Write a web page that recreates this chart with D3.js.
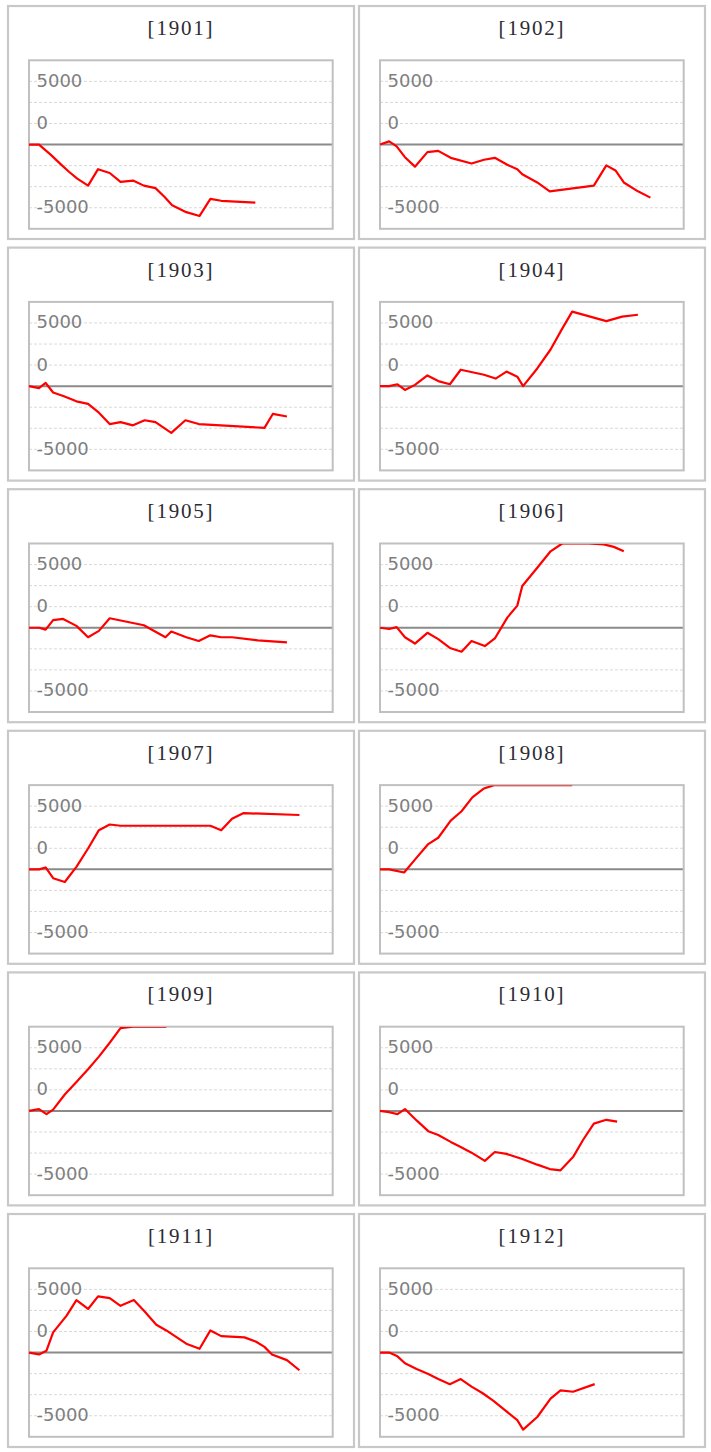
<!DOCTYPE html>
<html><head><meta charset="utf-8">
<script src="https://cdn.jsdelivr.net/npm/d3@7"></script>
<style>body{margin:0;background:#fff;} svg{display:block}</style>
</head><body><svg id="c" width="711" height="1452"></svg>
<script>
// ---- data: [day, value] ----
const years = ["1901","1902","1903","1904","1905","1906","1907","1908","1909","1910","1911","1912"];
const s1901 = [[0,0],[12,0],[26,-800],[38,-1550],[48,-2150],[58,-2700],[71,-3250],[83,-1950],[97,-2250],[110,-2950],[125,-2850],[138,-3250],[152,-3450],[163,-4150],[172,-4800],[189,-5350],[205,-5650],[218,-4300],[231,-4450],[272,-4600]];
const s1902 = [[0,0],[11,250],[20,-150],[30,-1000],[42,-1750],[57,-600],[70,-500],[85,-1050],[110,-1500],[125,-1200],[138,-1050],[153,-1600],[165,-1950],[171,-2350],[189,-3000],[204,-3700],[257,-3250],[272,-1650],[283,-2050],[293,-3000],[310,-3700],[325,-4200]];
const s1903 = [[0,0],[12,-150],[20,250],[29,-500],[42,-800],[57,-1200],[71,-1400],[84,-2100],[97,-3000],[110,-2850],[125,-3100],[139,-2700],[152,-2850],[171,-3700],[188,-2700],[204,-3000],[283,-3300],[293,-2200],[310,-2400]];
const s1904 = [[0,0],[11,0],[21,150],[30,-300],[42,100],[57,850],[70,400],[84,150],[97,1300],[125,900],[139,600],[152,1150],[165,750],[172,0],[189,1400],[205,2900],[219,4550],[231,5900],[272,5150],[291,5500],[310,5650]];
const s1905 = [[0,0],[12,0],[20,-150],[29,600],[41,700],[57,150],[71,-750],[84,-250],[97,750],[138,200],[164,-750],[171,-300],[189,-750],[204,-1050],[218,-600],[231,-750],[244,-750],[275,-1000],[310,-1150]];
const s1906 = [[0,0],[11,-100],[20,50],[30,-750],[42,-1250],[57,-400],[70,-900],[84,-1600],[98,-1900],[110,-1050],[126,-1450],[138,-850],[153,800],[165,1750],[171,3300],[189,4750],[205,6050],[219,6750],[235,7100],[251,6800],[269,6600],[281,6400],[293,6050]];
const s1907 = [[0,0],[12,0],[20,150],[29,-700],[43,-1000],[57,200],[71,1650],[84,3100],[97,3550],[110,3450],[218,3450],[231,3100],[244,4000],[258,4450],[325,4300]];
const s1908 = [[0,0],[11,0],[29,-250],[43,850],[58,2000],[70,2500],[85,3850],[98,4600],[111,5700],[125,6400],[137,6800],[152,7100],[165,7300],[178,7500],[191,7600],[205,7800],[218,7900],[231,8000]];
const s1909 = [[0,0],[12,150],[21,-250],[29,100],[43,1300],[57,2300],[71,3300],[84,4300],[97,5400],[110,6550],[125,6900],[138,7200],[152,7400],[165,7600]];
const s1910 = [[0,0],[11,-100],[21,-250],[30,150],[44,-750],[58,-1600],[70,-1900],[85,-2450],[97,-2850],[110,-3300],[126,-3950],[138,-3250],[152,-3400],[171,-3800],[189,-4250],[204,-4600],[217,-4700],[232,-3650],[244,-2300],[257,-1000],[272,-700],[285,-850]];
const s1911 = [[0,0],[12,-150],[21,150],[29,1600],[45,2900],[57,4150],[71,3450],[83,4450],[97,4300],[110,3700],[126,4150],[139,3250],[153,2200],[165,1750],[189,700],[205,300],[218,1750],[231,1300],[259,1200],[273,850],[283,450],[292,-150],[310,-600],[325,-1400]];
const s1912 = [[0,0],[11,0],[21,-300],[30,-850],[44,-1300],[58,-1700],[70,-2100],[84,-2500],[97,-2100],[110,-2700],[123,-3200],[136,-3800],[149,-4500],[165,-5350],[172,-6100],[189,-5100],[205,-3650],[217,-3000],[232,-3100],[258,-2500]];
const seriesList = [s1901,s1902,s1903,s1904,s1905,s1906,s1907,s1908,s1909,s1910,s1911,s1912];

const xDomain = [0, 365];
const yDomain = [-6666.67, 6666.67];
const gridValues = [-5000, -3333.33, -1666.67, 1666.67, 3333.33, 5000];
const tickValues = [5000, 1666.67, -5000];
const tickLabels = ["5000", "0", "-5000"];

// ---- layout ----
const colLefts = [8, 359];
const panelW = 346, panelH = 233, rowTop0 = 6, rowPitch = 241.6;
const plotDX = 21, plotDY = 54.3, plotW = 303.7, plotH = 168.5;

const svg = d3.select("#c");
const defs = svg.append("defs");

years.forEach((yr, i) => {
  const col = i % 2, row = Math.floor(i / 2);
  const px = colLefts[col], py = rowTop0 + row * rowPitch;
  const g = svg.append("g");
  g.append("rect").attr("x", px).attr("y", py).attr("width", panelW).attr("height", panelH)
    .attr("fill", "#fff").attr("stroke", "#c8c8c8").attr("stroke-width", 2.2);
  g.append("text").attr("x", px + panelW / 2).attr("y", py + 29)
    .attr("text-anchor", "middle")
    .attr("font-family", "'Liberation Serif', serif").attr("font-size", 21)
    .attr("letter-spacing", "1.8px")
    .attr("fill", "#2b2b33").text("[" + yr + "]");

  const L = px + plotDX, T = py + plotDY;
  const x = d3.scaleLinear().domain(xDomain).range([L, L + plotW]);
  const y = d3.scaleLinear().domain(yDomain).range([T + plotH, T]).clamp(true);

  g.selectAll(".grid").data(gridValues).enter().append("line")
    .attr("x1", L).attr("x2", L + plotW)
    .attr("y1", d => y(d)).attr("y2", d => y(d))
    .attr("stroke", "#d9d9d9").attr("stroke-width", 1).attr("stroke-dasharray", "3,2");
  g.append("line").attr("x1", L).attr("x2", L + plotW)
    .attr("y1", y(0)).attr("y2", y(0))
    .attr("stroke", "#8a8a8a").attr("stroke-width", 2);
  g.append("rect").attr("x", L).attr("y", T).attr("width", plotW).attr("height", plotH)
    .attr("fill", "none").attr("stroke", "#c0c0c0").attr("stroke-width", 2);

  g.selectAll(".tl").data(tickValues).enter().append("text")
    .attr("x", L + 7.5).attr("y", d => y(d) + 5.5)
    .attr("font-family", "'DejaVu Sans', Verdana, sans-serif").attr("font-size", 18)
    .attr("fill", "#7f7f7f").text((d, k) => tickLabels[k]);

  const cid = "clip" + yr;
  defs.append("clipPath").attr("id", cid).append("rect")
    .attr("x", L - 2).attr("y", T + 0.4).attr("width", plotW + 2).attr("height", plotH);
  const line = d3.line().x(d => x(d[0])).y(d => y(d[1]));
  g.append("path").datum(seriesList[i]).attr("d", line)
    .attr("clip-path", "url(#" + cid + ")")
    .attr("fill", "none").attr("stroke", "#ff0000").attr("stroke-width", 2.2)
    .attr("stroke-linejoin", "round");
});
</script>
</body></html>
